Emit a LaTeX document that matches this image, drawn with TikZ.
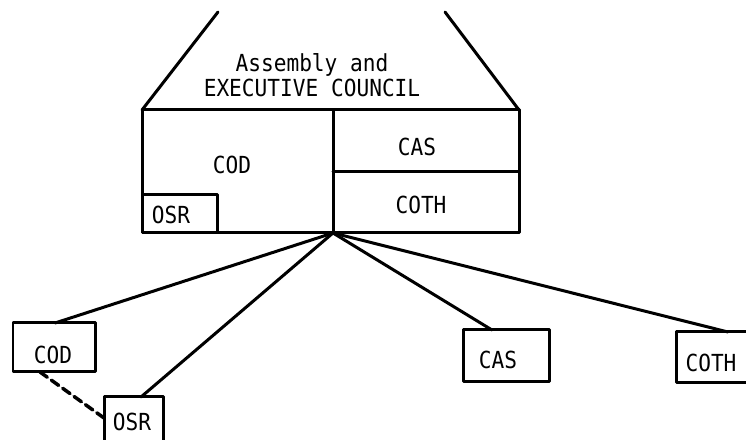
\documentclass[tikz,border=0pt]{standalone}
\usepackage{amsmath}
\usepackage{tkz-euclide}
\usepackage{fontspec}
\newfontfamily\typo[FakeStretch=0.9]{DejaVu Sans Mono}

\begin{document}
\begin{tikzpicture}[scale=.3515,
  heavy/.style={line width=3pt},
  lbl/.style={anchor=center,inner sep=0pt,font=\typo\fontsize{23.5}{25}\selectfont}]
\tkzDefPoint(0,0){SW}
\tkzDefPoint(74.6,44){NE}
\useasboundingbox (SW) rectangle (NE);


\tkzDefPoint(21.8,42.8){tL}
\tkzDefPoint(14.2,33.0){rA}
\tkzDrawSegment[heavy](tL,rA)

\tkzDefPoint(44.5,42.8){tR}
\tkzDefPoint(51.9,33.0){rB}
\tkzDrawSegment[heavy](tR,rB)

  \tkzDefPoint(51.9,20.7){rC}
  \tkzDefPoint(14.2,20.7){rD}
\tkzDrawPolygon[heavy](rA,rB,rC,rD)

  \tkzDefPoint(31.2,36.5){T}
  \tkzLabelPoint[lbl,align=center](T){Assembly and\\EXECUTIVE COUNCIL}

\tkzDefPoint(33.3,33.0){mA}
\tkzDefPoint(33.3,20.7){HUB}
\tkzDrawSegment[heavy](mA,HUB)

\tkzDefPoint(33.3,26.8){mB}
\tkzDefPoint(51.9,26.8){mC}
\tkzDrawSegment[heavy](mB,mC)

  \tkzDefPoint(14.2,24.5){oA}
  \tkzDefPoint(21.7,24.5){oB}
  \tkzDefPoint(21.7,20.7){oC}
\tkzDrawPolygon[heavy](oA,oB,oC,rD)

  \tkzDefPoint(23.2,27.5){P1}
  \tkzLabelPoint[lbl](P1){COD}
  \tkzDefPoint(41.7,29.3){P2}
  \tkzLabelPoint[lbl](P2){CAS}
  \tkzDefPoint(42.1,23.5){P3}
  \tkzLabelPoint[lbl](P3){COTH}
  \tkzDefPoint(17.1,22.5){P4}
  \tkzLabelPoint[lbl](P4){OSR}

% lower boxes
\tkzDefPoint(1.3,11.7){cA}
\tkzDefPoint(9.5,11.7){cB}
\tkzDefPoint(9.5,6.8){cC}
\tkzDefPoint(1.3,6.8){cD}
\tkzDrawPolygon[heavy](cA,cB,cC,cD)
  \tkzDefPoint(5.3,8.5){Q1}
  \tkzLabelPoint[lbl](Q1){COD}

\tkzDefPoint(10.4,4.3){sA}
\tkzDefPoint(16.3,4.3){sB}
\tkzDefPoint(16.3,-0.3){sC}
\tkzDefPoint(10.4,-0.3){sD}
\tkzDrawPolygon[heavy](sA,sB,sC,sD)
  \tkzDefPoint(13.2,1.8){Q2}
  \tkzLabelPoint[lbl](Q2){OSR}

\tkzDefPoint(46.3,11.0){aA}
\tkzDefPoint(54.9,11.0){aB}
\tkzDefPoint(54.9,5.8){aC}
\tkzDefPoint(46.3,5.8){aD}
\tkzDrawPolygon[heavy](aA,aB,aC,aD)
  \tkzDefPoint(49.8,8.0){Q3}
  \tkzLabelPoint[lbl](Q3){CAS}

\tkzDefPoint(67.6,10.8){hA}
\tkzDefPoint(75.4,10.8){hB}
\tkzDefPoint(75.4,5.7){hC}
\tkzDefPoint(67.6,5.7){hD}
\tkzDrawPolygon[heavy](hA,hB,hC,hD)
  \tkzDefPoint(71.1,7.7){Q4}
  \tkzLabelPoint[lbl](Q4){COTH}

% fan from the council
\tkzDefPoint(5.5,11.7){eA}
\tkzDefPoint(14.1,4.3){eB}
\tkzDefPoint(49.2,11.0){eC}
\tkzDefPoint(72.8,10.8){eD}
\tkzDrawSegment[heavy](HUB,eA)
\tkzDrawSegment[heavy](HUB,eB)
\tkzDrawSegment[heavy](HUB,eC)
\tkzDrawSegment[heavy](HUB,eD)

\tkzDefPoint(4.0,6.8){dA}
\tkzDefPoint(10.4,2.2){dB}
\tkzDrawSegment[line width=3.5pt,dash pattern=on 9pt off 5pt](dA,dB)

\end{tikzpicture}
\end{document}
